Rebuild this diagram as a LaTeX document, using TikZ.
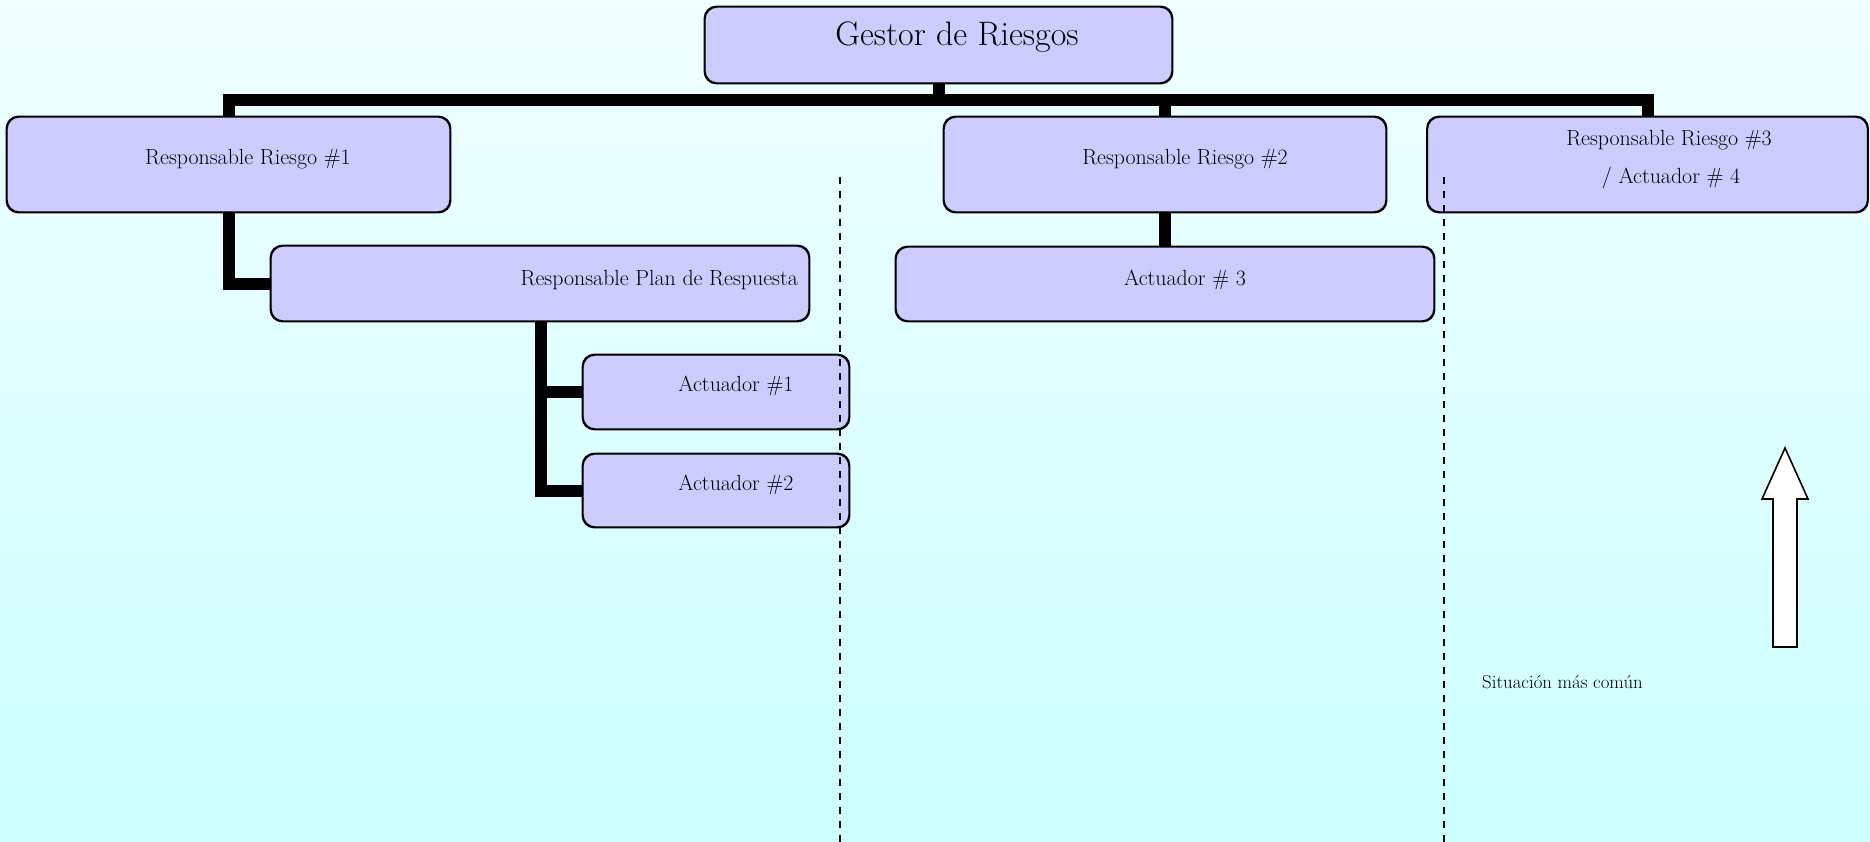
\documentclass[tikz,border=0pt]{standalone}
\usepackage{fontspec}
\definecolor{boxfill}{HTML}{CCCCFF}
\definecolor{bgtop}{HTML}{F0FFFF}
\definecolor{bgbottom}{HTML}{CCFFFF}
\begin{document}
\begin{tikzpicture}[x=1pt,y=-1pt,
  box/.style={draw=black,line width=1.4pt,fill=boxfill,rounded corners=12pt,inner sep=0pt},
  conn/.style={line width=12pt,line join=miter},
  divider/.style={line width=1.6pt,dash pattern=on 7pt off 7pt},
  lbl/.style={anchor=base,inner sep=0pt,font=\fontsize{21.9}{24}\selectfont},
  note/.style={anchor=base west,inner sep=0pt,font=\fontsize{18.8}{21}\selectfont}]
  % background
  \shade[top color=bgtop,bottom color=bgbottom] (0,0) rectangle (1870,842);
  \useasboundingbox (0,0) rectangle (1870,842);

  % boxes
  \node[box,minimum width=467pt,minimum height=76pt] (g) at (938.5,45) {};
  \node[box,minimum width=443pt,minimum height=95pt] (rr1) at (228.5,164.5) {};
  \node[box,minimum width=538pt,minimum height=75pt] (rpr) at (540,283.5) {};
  \node[box,minimum width=266pt,minimum height=74pt] (a1) at (716,392) {};
  \node[box,minimum width=266pt,minimum height=73pt] (a2) at (716,490.5) {};
  \node[box,minimum width=442pt,minimum height=95pt] (rr2) at (1165,164.5) {};
  \node[box,minimum width=538pt,minimum height=74pt] (a3) at (1165,284) {};
  \node[box,minimum width=440pt,minimum height=95pt] (rr3) at (1647.5,164.5) {};

  % box labels
  \node[anchor=base,inner sep=0pt,font=\fontsize{34}{36}\selectfont] (gt) at (957,46) {Gestor de Riesgos};
  \node[lbl] (rr1t) at (248,165) {Responsable Riesgo \#1};
  \node[lbl,anchor=base east] (rprt) at (798,285) {Responsable Plan de Respuesta};
  \node[lbl] (a1t) at (736,391) {Actuador \#1};
  \node[lbl] (a2t) at (736,490) {Actuador \#2};
  \node[lbl] (rr2t) at (1185,165) {Responsable Riesgo \#2};
  \node[lbl] (a3t) at (1185,285) {Actuador \# 3};
  \node[lbl] (rr3t) at (1669,146) {Responsable Riesgo \#3};
  \node[lbl] (rr3u) at (1671,184) {/ Actuador \# 4};

  % tree connectors
  \coordinate (bus) at (938.5,100);
  \coordinate (sub) at (541,0);
  \draw[conn] (rr1.north) -- (rr1.north |- bus) -- (rr3.north |- bus) -- (rr3.north);
  \draw[conn] (g.south) -- (g.south |- bus);
  \draw[conn] (rr2.north) -- (rr2.north |- bus);
  \draw[conn] (rr1.south) |- (rpr.west);
  \draw[conn] (sub |- rpr.south) |- (a2.west);
  \draw[conn] (sub |- a1.west) -- (a1.west);
  \draw[conn] (rr2.south) -- (a3.north);

  % redraw box outlines over connector ends
  \foreach \n in {g,rr1,rpr,a1,a2,rr2,a3,rr3}{
    \draw[line width=1.4pt,rounded corners=12pt] (\n.north west) rectangle (\n.south east);
  }

  % dividers
  \coordinate (d1top) at (840,177);
  \coordinate (d1bot) at (840,842);
  \coordinate (d2top) at (1444,177);
  \coordinate (d2bot) at (1444,842);
  \draw[divider] (d1top) -- (d1bot);
  \draw[divider] (d2top) -- (d2bot);

  % upward arrow
  \draw[line width=1.6pt,fill=white] (1773,647) -- (1773,499) -- (1762,499) -- (1785,448)
     -- (1808,499) -- (1797,499) -- (1797,647) -- cycle;

  \node[note] (common) at (1482,688) {Situación más común};
\end{tikzpicture}
\end{document}
